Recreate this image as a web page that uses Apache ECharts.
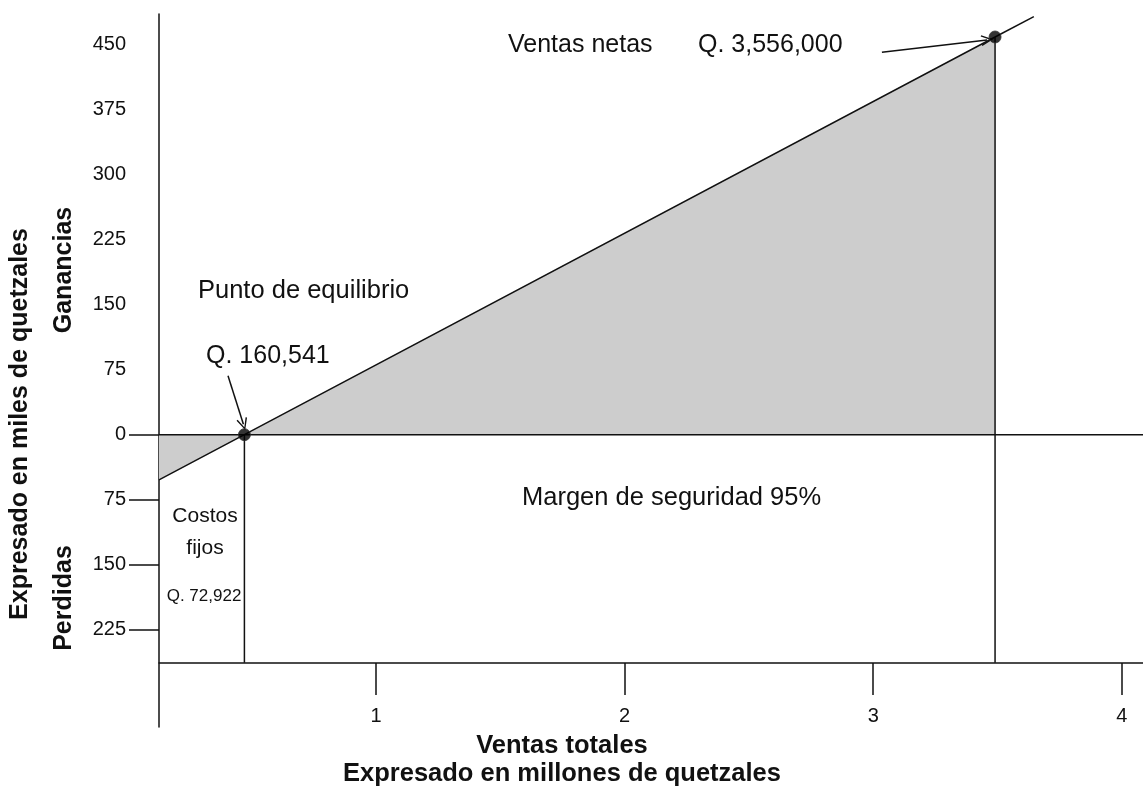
<!DOCTYPE html>
<html>
<head>
<meta charset="utf-8">
<script src="https://cdn.jsdelivr.net/npm/echarts@6/dist/echarts.min.js"></script>
<style>
  html, body { margin: 0; padding: 0; background: #fff; }
  #chart { width: 1143px; height: 793px; }
</style>
</head>
<body>
<div id="chart"></div>
<script>
// ejes (millones / miles de quetzales)
const xMin = 0.1275
const xMax = 4.085
const yMin = -337
const yMax = 485
const xAxisLevel = -263
const xTickValues = [1, 2, 3, 4]
const yTickValues = [-225, -150, -75, 0, 75, 150, 225, 300, 375, 450]
const yTickMarks = [-225, -150, -75, 0]

// recta de ventas
const salesX = [0.1275, 0.471, 3.49]
const salesY = [-52, 0, 458.5]
const extX = [3.49, 3.646]
const extY = [458.5, 482]

// puntos clave
const breakevenX = 0.471
const netSalesX = 3.49
const netSalesY = 458.5

// flechas
const arrowEquilibrio = [[0.405, 68], [0.467, 12]]
const arrowVentas = [[3.035, 441], [3.458, 455]]

const zip = (xs, ys) => xs.map((x, i) => [x, ys[i]])

const font = '"Liberation Sans", Arial, sans-serif'
const ink = '#111'
// punta de flecha abierta
const chevron = 'path://M0,10 L5,0 L10,10 L8.8,10.6 L5,2.6 L1.2,10.6 Z'

let text = (x, y, str, size, extra) => Object.assign({
  type: 'text',
  x: x,
  y: y,
  style: { text: str, font: size + 'px ' + font, fill: ink, verticalAlign: 'middle' }
}, extra || {})

let myChart = echarts.init(document.getElementById('chart'))
let option = {
  animation: false,
  grid: { left: 159, right: 0, top: 14, bottom: 66 },
  xAxis: {
    type: 'value',
    min: xMin,
    max: xMax,
    offset: -64,
    axisLine: { onZero: false, lineStyle: { color: ink, width: 1.5 } },
    axisTick: { customValues: xTickValues, length: 32, lineStyle: { color: ink, width: 1.5 } },
    axisLabel: { customValues: xTickValues, margin: 43, fontSize: 20, color: ink, fontFamily: font },
    splitLine: { show: false }
  },
  yAxis: {
    type: 'value',
    min: yMin,
    max: yMax,
    axisLine: { show: true, onZero: false, lineStyle: { color: ink, width: 1.5 } },
    axisTick: { show: true, customValues: yTickMarks, length: 30, lineStyle: { color: ink, width: 1.5 } },
    axisLabel: {
      customValues: yTickValues,
      margin: 33,
      fontSize: 20,
      color: ink,
      fontFamily: font,
      formatter: v => String(Math.abs(v))
    },
    splitLine: { show: false }
  },
  series: [
    {
      name: 'Ventas',
      type: 'line',
      data: zip(salesX, salesY),
      symbol: 'none',
      lineStyle: { color: ink, width: 1.5 },
      areaStyle: { color: '#cdcdcd', opacity: 1 },
      z: 2
    },
    {
      type: 'line',
      data: zip(extX, extY),
      symbol: 'none',
      lineStyle: { color: ink, width: 1.5 }
    },
    {
      // linea de cero
      type: 'line',
      data: [[xMin, 0], [xMax, 0]],
      symbol: 'none',
      lineStyle: { color: ink, width: 1.5 },
      z: 3
    },
    {
      type: 'line',
      data: [[breakevenX, 0], [breakevenX, xAxisLevel]],
      symbol: 'none',
      lineStyle: { color: ink, width: 1.5 }
    },
    {
      type: 'line',
      data: [[netSalesX, netSalesY], [netSalesX, xAxisLevel]],
      symbol: 'none',
      lineStyle: { color: ink, width: 1.5 },
      markLine: {
        silent: true,
        symbol: ['none', chevron],
        symbolSize: [11, 12],
        lineStyle: { color: ink, width: 1.5, type: 'solid' },
        label: { show: false },
        data: [
          [{ coord: arrowEquilibrio[0] }, { coord: arrowEquilibrio[1] }],
          [{ coord: arrowVentas[0] }, { coord: arrowVentas[1] }]
        ]
      }
    },
    {
      type: 'scatter',
      data: [[breakevenX, 0], [netSalesX, netSalesY]],
      symbolSize: 12,
      itemStyle: { color: '#000', borderColor: '#333', borderWidth: 1 },
      z: 5
    }
  ],
  graphic: [
    text(508, 45, 'Ventas netas', 25),
    text(698, 45, 'Q. 3,556,000', 25),
    text(198, 291, 'Punto de equilibrio', 25.5),
    text(206, 356, 'Q. 160,541', 25),
    text(522, 498, 'Margen de seguridad 95%', 25.5),
    { type: 'text', x: 205, y: 516, style: { text: 'Costos', font: '21px ' + font, fill: ink, align: 'center', verticalAlign: 'middle' } },
    { type: 'text', x: 205, y: 548, style: { text: 'fijos', font: '21px ' + font, fill: ink, align: 'center', verticalAlign: 'middle' } },
    { type: 'text', x: 204, y: 596, style: { text: 'Q. 72,922', font: '17px ' + font, fill: ink, align: 'center', verticalAlign: 'middle' } },
    { type: 'text', x: 562, y: 746, style: { text: 'Ventas totales', font: 'bold 25.5px ' + font, fill: ink, align: 'center', verticalAlign: 'middle' } },
    { type: 'text', x: 562, y: 774, style: { text: 'Expresado en millones de quetzales', font: 'bold 25.5px ' + font, fill: ink, align: 'center', verticalAlign: 'middle' } },
    { type: 'text', x: 20, y: 424, rotation: Math.PI / 2, style: { text: 'Expresado en miles de quetzales', font: 'bold 25px ' + font, fill: ink, align: 'center', verticalAlign: 'middle' } },
    { type: 'text', x: 64, y: 270, rotation: Math.PI / 2, style: { text: 'Ganancias', font: 'bold 25px ' + font, fill: ink, align: 'center', verticalAlign: 'middle' } },
    { type: 'text', x: 64, y: 598, rotation: Math.PI / 2, style: { text: 'Perdidas', font: 'bold 25px ' + font, fill: ink, align: 'center', verticalAlign: 'middle' } }
  ]
}
myChart.setOption(option)
</script>
</body>
</html>
